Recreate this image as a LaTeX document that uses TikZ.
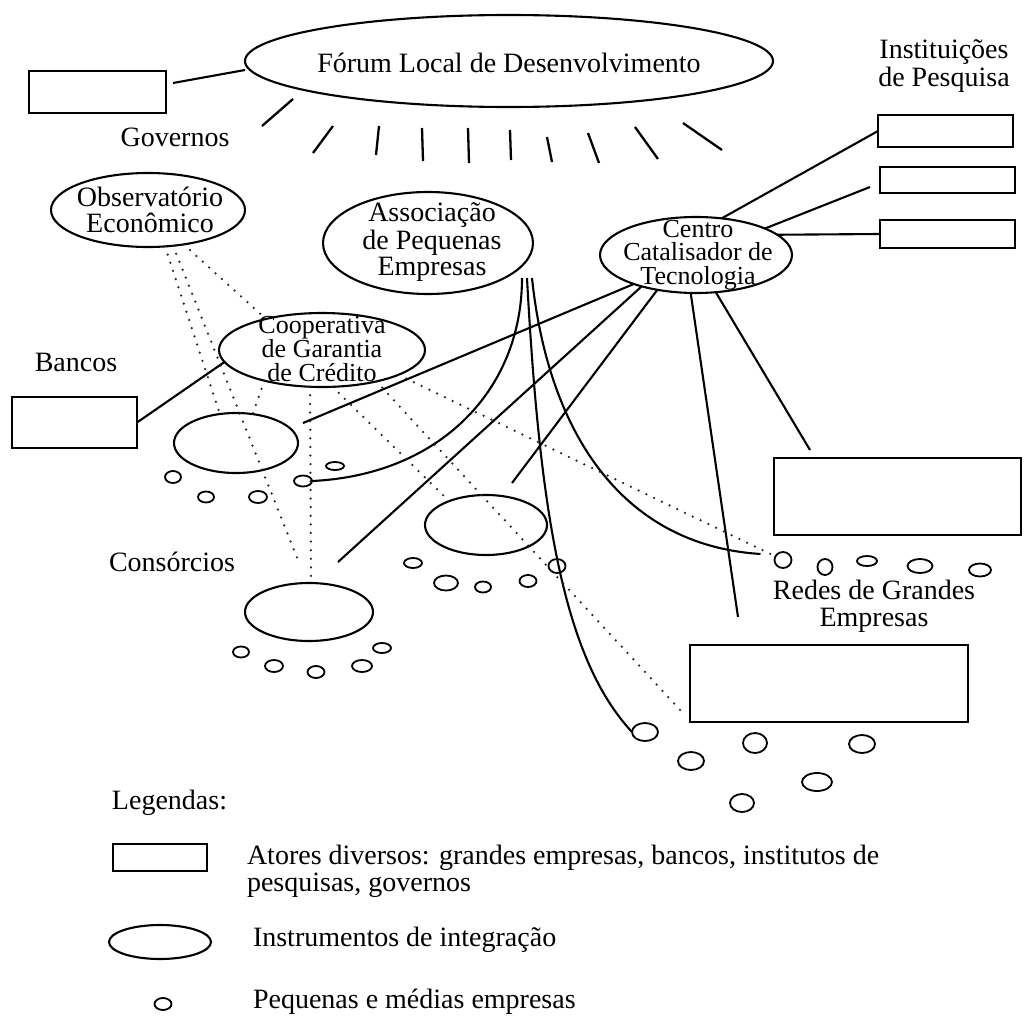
\documentclass[tikz,border=0pt]{standalone}
\usepackage{fontspec}
\setmainfont{Liberation Serif}
\usetikzlibrary{shapes.geometric}
\begin{document}
\begin{tikzpicture}[x=0.5pt,y=-0.5pt,
 every node/.style={inner sep=0pt,outer sep=0pt},
 sz/.style 2 args={minimum width=#1*1pt,minimum height=#2*1pt},
 ell/.style={draw,ellipse,line width=1.05pt},
 box/.style={draw,rectangle,line width=1.05pt},
 pme/.style={draw,ellipse,line width=0.9pt},
 txt/.style={font=\fontsize{14}{#1}\selectfont,align=center},
 txt/.default=14,
 smalltxt/.style={font=\fontsize{13}{#1}\selectfont,align=center},
 link/.style={line width=1.05pt},
 ray/.style={line width=1.15pt},
 dots/.style={line width=1.25pt,line cap=round,dash pattern=on 0pt off 4.3pt,black!85}]
\useasboundingbox (0,0) rectangle (1029,1017);

% actors (rectangles)
\node[box,sz={68.5}{21}] (gov) at (97.5,92) {};
\node[box,sz={62.5}{25.5}] (bancos) at (74.5,422.5) {};
\node[box,sz={67.5}{16}] (inst1) at (945.5,131) {};
\node[box,sz={67.5}{13}] (inst2) at (947.5,180) {};
\node[box,sz={67.5}{14}] (inst3) at (947.5,234) {};
\node[box,sz={123.5}{38.5}] (bigr) at (897.5,496.5) {};
\node[box,sz={139}{38.5}] (botr) at (829,683.5) {};

% integration instruments (ellipses)
\node[ell,sz={264}{46}] (forum) at (509,61) {};
\node[ell,sz={97}{37}] (obs) at (148,210) {};
\node[ell,sz={105}{51}] (assoc) at (428,243) {};
\node[ell,sz={96}{38}] (centro) at (696,255) {};
\node[ell,sz={103}{37}] (coop) at (322,350) {};
\node[ell,sz={62}{30}] (cons1) at (236,443) {};
\node[ell,sz={61}{30}] (cons2) at (486,525) {};
\node[ell,sz={64}{29}] (cons3) at (309,612) {};

% small and medium firms
\foreach \n/\x/\y/\a/\b in {
 p11/173/477/8/6, p12/206/497/8/5.5, p13/258/497/9/6, p14/303/481/9/5.5, p15/335/466/9/4,
 p21/413/563/9/5, p22/446/583/12/7.5, p23/483/587/8/5.5, p24/528/581/8.5/6, p25/557/566/8.5/7,
 p31/241/652/8/5.5, p32/274/666/9/6, p33/316/672/8.5/6, p34/362/666/10/6, p35/382/648/9/5,
 r1/783/560/8.5/8, r2/825/567/7.5/8, r3/867/561/10/5, r4/920/566/12.5/7, r5/980/570/11/6.5,
 b1/645/732/13/9, b2/691/761/13/9, b3/755/743/12/10, b4/862/744/13/9, b5/817/782/15/9, b6/742/803/12/9}
 \node[pme,sz={\a}{\b}] (\n) at (\x,\y) {};

% texts
\node[txt] (forumtxt) at (509,63) {Fórum Local de Desenvolvimento};
\node[txt] (govlbl) at (175,137) {Governos};
\node[txt=11.5] (instlbl) at (944,66) {Instituições\\de Pesquisa};
\node[txt=13] (obstxt) at (150,210) {Observatório\\Econômico};
\node[txt=12] (assoctxt) at (432,242) {Associação\\de Pequenas\\Empresas};
\node[smalltxt=11.9] (centrotxt) at (698,255) {Centro\\Catalisador de\\Tecnologia};
\node[smalltxt=11.9] (cooptxt) at (322,349) {Cooperativa\\de Garantia\\de Crédito};
\node[txt] (bancoslbl) at (76,362) {Bancos};
\node[txt] (conslbl) at (172,562) {Consórcios};
\node[txt=13.5] (redeslbl) at (874,606) {Redes de Grandes\\Empresas};

% rays of the forum
\foreach \xa/\ya/\xb/\yb in {293/99/262/126, 333/126/313/153, 379/126/376/155, 422/128/423/161,
 468/128/469/163, 510/130/511/160, 547/137/552/162, 588/133/599/163, 635/127/658/159, 683/123/722/150}
 \draw[ray] (\xa,\ya) -- (\xb,\yb);

% solid links
\draw[link] ([shift={(3.5pt,4.5pt)}]gov.east) -- ([yshift=-4.5pt]forum.west);
\draw[link] (bancos.east) -- (coop.187);
\draw[link] (centro.55) -- (inst1.west);
\draw[link] (centro.21) -- ([shift={(-5pt,-3.5pt)}]inst2.west);
\draw[link] (centro.14) -- (inst3.west);
\coordinate (ec1) at (303,423);
\coordinate (ec3) at (338,562);
\coordinate (ec2) at (512,483);
\coordinate (ebr) at (738,617);
\coordinate (ebig) at (810,450);
\draw[link] (centro.205) -- (ec1);
\draw[link] (centro.210) -- (ec3);
\draw[link] (centro.222) -- (ec2);
\draw[link] (centro.262) -- (ebr);
\draw[link] (centro.-62) -- (ebig);

% curves from the association
\coordinate (a1) at (522,278);
\coordinate (a2) at (527,278);
\coordinate (a3) at (532,278);
\draw[link] (a1) .. controls (522,390) and (440,475) .. (p14.east);
\draw[link] (a2) .. controls (540,520) and (565,660) .. (b1.west);
\draw[link] (a3) .. controls (548,430) and (620,545) .. ([shift={(-7pt,3pt)}]r1.west);

% dotted links
\coordinate (eo2) at (300,565);
\coordinate (ed4) at (683,713);
\draw[dots] (obs.-65) -- (cons1.119);
\draw[dots] (obs.-55) -- (eo2);
\draw[dots] (obs.-44) -- (coop.151);
\draw[dots] (coop.208) -- (cons1.60);
\draw[dots] (coop.252) -- (cons3.86);
\draw[dots] (coop.-74) -- (cons2.147);
\draw[dots] (coop.-30) -- (ed4);
\draw[dots] (coop.-18) -- (r1);

% legend
\node[txt,anchor=west] (leglbl) at (112,803) {Legendas:};
\node[box,sz={47}{13.5}] (legbox) at (160,857.5) {};
\node[txt=13.5,align=left,anchor=west] (legboxtxt) at (247,871.5) {Atores diversos: grandes empresas, bancos, institutos de\\pesquisas, governos};
\node[ell,sz={51}{17}] (legell) at (160,942) {};
\node[txt,anchor=west] (legelltxt) at (253,940) {Instrumentos de integração};
\node[pme,sz={8.5}{6}] (legpme) at (163,1004) {};
\node[txt,anchor=west] (legpmetxt) at (253,1002) {Pequenas e médias empresas};
\end{tikzpicture}
\end{document}
